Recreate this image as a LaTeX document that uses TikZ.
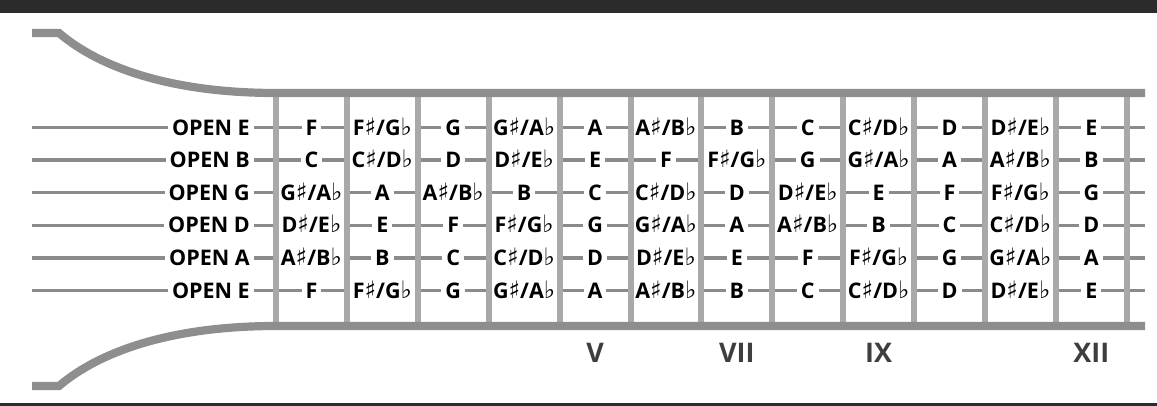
\documentclass[tikz,border=0pt]{standalone}
\usepackage{fontspec}
\setmainfont{Open Sans}
\newfontfamily\symf{DejaVu Sans}
\newcommand\Shp{{\symf\fontsize{24}{26}\selectfont\char"266F}}
\newcommand\Flt{{\symf\fontsize{24}{26}\selectfont\char"266D}}
\definecolor{bandcol}{HTML}{2B2B2B}
\definecolor{barcol}{HTML}{8D8E90}
\definecolor{fretcol}{HTML}{A7A9AB}
\definecolor{strcol}{HTML}{8A8B8D}
\definecolor{numcol}{HTML}{3E3E3E}
\tikzset{
  band/.style={fill=bandcol},
  outline/.style={draw=barcol,line width=8.2pt,line join=miter},
  fretline/.style={draw=fretcol,line width=6pt},
  stringline/.style={draw=strcol,line width=3.4pt},
  note/.style={fill=white,inner xsep=4pt,inner ysep=1pt,text height=15pt,text depth=0pt,
    font=\fontsize{21.5}{24}\selectfont\bfseries},
  openlab/.style={note,anchor=east},
  fretnum/.style={text=numcol,inner sep=0pt,text height=19pt,text depth=0pt,
    font=\fontsize{27}{30}\selectfont\bfseries}
}
\begin{document}
\begin{tikzpicture}[x=1pt,y=-1pt]
\useasboundingbox (0,0) rectangle (1157,406);
\fill[band] (0,0) rectangle (1157,12.7);
\fill[band] (0,403.2) rectangle (1157,406);
% strings
\foreach \i in {1,...,6}{
  \coordinate (sL\i) at (32,{127.6+(\i-1)*32.6});
  \coordinate (sR\i) at (1145,{127.6+(\i-1)*32.6});
  \draw[stringline] (sL\i) -- (sR\i);
}
% open string labels
\foreach \i/\t in {1/OPEN E,2/OPEN B,3/OPEN G,4/OPEN D,5/OPEN A,6/OPEN E}{
  \node[openlab] (open\i) at (254,{127.6+(\i-1)*32.6}) {\t};
}
% notes
\foreach \row [count=\i] in {
  {F,F\Shp/G\Flt,G,G\Shp/A\Flt,A,A\Shp/B\Flt,B,C,C\Shp/D\Flt,D,D\Shp/E\Flt,E},
  {C,C\Shp/D\Flt,D,D\Shp/E\Flt,E,F,F\Shp/G\Flt,G,G\Shp/A\Flt,A,A\Shp/B\Flt,B},
  {G\Shp/A\Flt,A,A\Shp/B\Flt,B,C,C\Shp/D\Flt,D,D\Shp/E\Flt,E,F,F\Shp/G\Flt,G},
  {D\Shp/E\Flt,E,F,F\Shp/G\Flt,G,G\Shp/A\Flt,A,A\Shp/B\Flt,B,C,C\Shp/D\Flt,D},
  {A\Shp/B\Flt,B,C,C\Shp/D\Flt,D,D\Shp/E\Flt,E,F,F\Shp/G\Flt,G,G\Shp/A\Flt,A},
  {F,F\Shp/G\Flt,G,G\Shp/A\Flt,A,A\Shp/B\Flt,B,C,C\Shp/D\Flt,D,D\Shp/E\Flt,E}}{
  \foreach \n [count=\j] in \row {
    \node[note] (n\i-\j) at ({276+(\j-0.5)*70.9},{127.6+(\i-1)*32.6}) {\n};
  }
}
% frets
\foreach \k in {0,...,12}{
  \coordinate (ft\k) at ({276+\k*70.9},93);
  \coordinate (fb\k) at ({276+\k*70.9},326);
  \draw[fretline] (ft\k) -- (fb\k);
}
% neck outline
\coordinate (tl) at (32,33);
\coordinate (tk) at (59,33);
\coordinate (tn) at (276,93);
\coordinate (tr) at (1145,93);
\coordinate (bl) at (32,386);
\coordinate (bk) at (59,386);
\coordinate (bn) at (276,326);
\coordinate (br) at (1145,326);
\draw[outline] (tl) -- (tk) .. controls (100,68) and (172,93) .. (tn) -- (tr);
\draw[outline] (bl) -- (bk) .. controls (100,351) and (172,326) .. (bn) -- (br);
% fret numbers
\node[fretnum] (f5) at ({276+4.5*70.9},352.5) {V};
\node[fretnum] (f7) at ({276+6.5*70.9},352.5) {VII};
\node[fretnum] (f9) at ({276+8.5*70.9},352.5) {IX};
\node[fretnum] (f12) at ({276+11.5*70.9},352.5) {XII};
\end{tikzpicture}
\end{document}
